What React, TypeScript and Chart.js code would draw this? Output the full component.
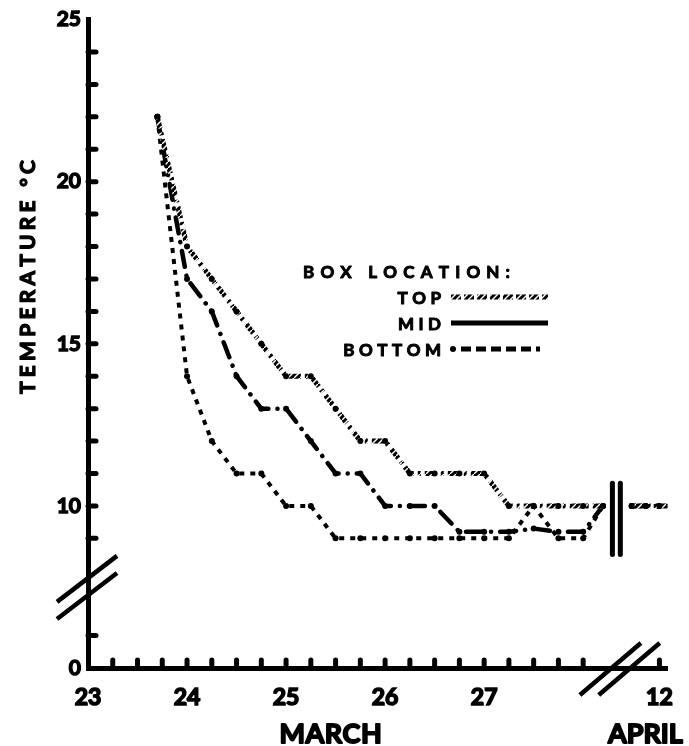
import React, { useEffect, useRef } from 'react';
import { Chart, registerables } from 'chart.js';

Chart.register(...registerables);

// ---------------- DATA ----------------
const SERIES_NAMES = ['TOP', 'MID', 'BOTTOM'];
const LEGEND_TITLE = 'BOX LOCATION:';
const Y_TITLE = 'TEMPERATURE °C';
const X_TITLE_MARCH = 'MARCH';
const X_TITLE_APRIL = 'APRIL';

// March observation times (day of March)
const MARCH_TIMES = [23.7, 24.0, 24.25, 24.5, 24.75, 25.0, 25.25, 25.5, 25.75, 26.0, 26.25, 26.5, 26.75, 27.0, 27.25, 27.5, 27.75, 28.0, 28.2];
const TOP_MARCH = [22, 18, 17, 16, 15, 14, 14, 13, 12, 12, 11, 11, 11, 11, 10, 10, 10, 10, 10];
const MID_MARCH = [22, 17, 16, 14, 13, 13, 12, 11, 11, 10, 10, 10, 9.2, 9.2, 9.2, 9.3, 9.2, 9.2, 10];
const BOTTOM_MARCH = [22, 14, 12, 11, 11, 10, 10, 9, 9, 9, 9, 9, 9, 9, 9, 10, 9, 9, 10];

// April observation times (day of April)
const APRIL_TIMES = [11.72, 11.86, 12.0, 12.12];
const TOP_APRIL = [10, 10, 10, 10];
const MID_APRIL = [10, 10, 10, 10];
const BOTTOM_APRIL = [10, 10, 10, 10];

// Tick labels
const X_TICK_MARCH = [23, 24, 25, 26, 27];
const X_TICK_APRIL = [12];
const Y_TICK_VALUES = [0, 10, 15, 20, 25];

// Axis-break definitions (broken axes in the original figure)
const Y_BREAK_MIN = 5; // temperatures above this are shifted down
const Y_BREAK_OFFSET = 5; // the 1..9 °C range is cut out
const APRIL_SHIFT = 16.77; // April day -> axis position after the time break
const X_MIN = 23;
const X_MAX = 28.85;

const toY = (v: number) => (v >= Y_BREAK_MIN ? v - Y_BREAK_OFFSET : v);
const aprilX = (d: number) => d + APRIL_SHIFT;

const FONT = 'Lato, "DejaVu Sans", sans-serif';

function buildPoints(march: number[], april: number[]) {
  const pts: { x: number; y: number | null }[] = [];
  MARCH_TIMES.forEach((t, i) => pts.push({ x: t, y: toY(march[i]) }));
  pts.push({ x: (MARCH_TIMES[MARCH_TIMES.length - 1] + aprilX(APRIL_TIMES[0])) / 2, y: null });
  APRIL_TIMES.forEach((t, i) => pts.push({ x: aprilX(t), y: toY(april[i]) }));
  return pts;
}

function drawSpaced(ctx: CanvasRenderingContext2D, text: string, x: number, y: number, spacing: number, align: 'left' | 'right' | 'center', stroke = 1.2) {
  const chars = [...text];
  const widths = chars.map((c) => ctx.measureText(c).width);
  const total = widths.reduce((a, b) => a + b, 0) + spacing * (chars.length - 1);
  let cx = align === 'left' ? x : align === 'right' ? x - total : x - total / 2;
  const prev = ctx.textAlign;
  ctx.textAlign = 'left';
  ctx.lineWidth = stroke;
  ctx.lineJoin = 'round';
  chars.forEach((c, i) => {
    ctx.fillText(c, cx, y);
    if (stroke > 0) ctx.strokeText(c, cx, y);
    cx += widths[i] + spacing;
  });
  ctx.textAlign = prev;
}

function spacingFor(ctx: CanvasRenderingContext2D, text: string, target: number) {
  const chars = [...text];
  const sum = chars.reduce((a, c) => a + ctx.measureText(c).width, 0);
  return (target - sum) / (chars.length - 1);
}

function makeHatch(): CanvasPattern | string {
  const c = document.createElement('canvas');
  c.width = 6;
  c.height = 6;
  const g = c.getContext('2d');
  if (!g) return '#000';
  g.fillStyle = '#000';
  g.fillRect(0, 0, 6, 6);
  g.strokeStyle = '#fff';
  g.lineWidth = 1.4;
  g.beginPath();
  g.moveTo(-1, 7);
  g.lineTo(7, -1);
  g.stroke();
  const p = g.createPattern(c, 'repeat');
  return p || '#000';
}

const decorPlugin = {
  id: 'decor',
  afterDraw(chart: any) {
    const ctx: CanvasRenderingContext2D = chart.ctx;
    const xs = chart.scales.x;
    const ys = chart.scales.y;
    const left = chart.chartArea.left;
    const bottom = chart.chartArea.bottom;
    ctx.save();
    ctx.strokeStyle = '#000';
    ctx.fillStyle = '#000';
    ctx.lineCap = 'round';

    // inward tick marks, x axis (every 6 h in March, plus April 12)
    ctx.lineWidth = 5;
    const xMinor: number[] = [];
    for (let d = X_MIN + 0.25; d <= 28.001; d += 0.25) xMinor.push(d);
    X_TICK_APRIL.forEach((d) => xMinor.push(aprilX(d)));
    xMinor.forEach((d) => {
      const px = xs.getPixelForValue(d);
      ctx.beginPath();
      ctx.moveTo(px, bottom);
      ctx.lineTo(px, bottom - 8);
      ctx.stroke();
    });

    // inward tick marks, y axis (every 1 °C, except the cut-out range)
    const yMinor: number[] = [1];
    for (let v = 9; v <= 24; v++) yMinor.push(v);
    yMinor.forEach((v) => {
      const py = ys.getPixelForValue(toY(v));
      ctx.beginPath();
      ctx.moveTo(left, py);
      ctx.lineTo(left + 8, py);
      ctx.stroke();
    });

    // y axis break marks
    ctx.lineWidth = 4.5;
    ctx.lineCap = 'butt';
    [2.25, 2.78].forEach((dv) => {
      const cy = ys.getPixelForValue(dv);
      ctx.beginPath();
      ctx.moveTo(left - 31, cy + 24);
      ctx.lineTo(left + 29, cy - 22);
      ctx.stroke();
    });

    // x axis break marks
    [28.27, 28.46].forEach((dx) => {
      const cx = xs.getPixelForValue(dx);
      ctx.beginPath();
      ctx.moveTo(cx - 30, bottom + 27);
      ctx.lineTo(cx + 31, bottom - 25);
      ctx.stroke();
    });

    // double vertical bar in plot at time break
    ctx.lineWidth = 5;
    ctx.lineCap = 'round';
    [28.295, 28.375].forEach((dx) => {
      const px = xs.getPixelForValue(dx);
      ctx.beginPath();
      ctx.moveTo(px, ys.getPixelForValue(5.7));
      ctx.lineTo(px, ys.getPixelForValue(3.5));
      ctx.stroke();
    });

    // axis titles
    ctx.textBaseline = 'alphabetic';
    ctx.font = `bold 27px ${FONT}`;
    const marchCenter = (xs.getPixelForValue(X_MIN) + xs.getPixelForValue(28)) / 2 - 5;
    drawSpaced(ctx, X_TITLE_MARCH, marchCenter, 743, 0.5, 'center', 1.8);
    drawSpaced(ctx, X_TITLE_APRIL, xs.getPixelForValue(aprilX(X_TICK_APRIL[0])) - 14, 743, 0, 'center', 1.8);

    ctx.save();
    ctx.translate(35, 277);
    ctx.rotate(-Math.PI / 2);
    ctx.font = `bold 21px ${FONT}`;
    const sp = spacingFor(ctx, Y_TITLE, 234);
    drawSpaced(ctx, Y_TITLE, 0, 0, sp, 'center', 1.2);
    ctx.restore();

    // legend
    ctx.font = `bold 17px ${FONT}`;
    const sp2 = spacingFor(ctx, LEGEND_TITLE, 207);
    drawSpaced(ctx, LEGEND_TITLE, 303, 278, sp2, 'left', 1);
    const rowY = [304, 330, 356];
    const labelRight = 441;
    const sampleStart = 451;
    const sampleEnd = 548;
    SERIES_NAMES.forEach((name, i) => {
      ctx.font = `bold 17px ${FONT}`;
      ctx.strokeStyle = '#000';
      drawSpaced(ctx, name, labelRight, rowY[i], 4.5, 'right', 1);
      const ly = rowY[i] - 7;
      const ds = chart.data.datasets[i];
      ctx.save();
      ctx.lineCap = 'butt';
      if (i === 0) {
        ctx.strokeStyle = ds.borderColor;
        ctx.lineWidth = 5;
        ctx.setLineDash([10, 3]);
        ctx.beginPath();
        ctx.moveTo(sampleStart, ly);
        ctx.lineTo(sampleEnd, ly);
        ctx.stroke();
      } else if (i === 1) {
        ctx.lineWidth = 5;
        ctx.beginPath();
        ctx.moveTo(sampleStart, ly);
        ctx.lineTo(sampleEnd, ly);
        ctx.stroke();
      } else {
        ctx.beginPath();
        ctx.arc(sampleStart + 2, ly, 3, 0, Math.PI * 2);
        ctx.fill();
        ctx.lineWidth = 5;
        ctx.setLineDash([10, 5]);
        ctx.beginPath();
        ctx.moveTo(sampleStart + 10, ly);
        ctx.lineTo(sampleEnd - 8, ly);
        ctx.stroke();
      }
      ctx.restore();
    });

    ctx.restore();
  },
};

export default function App() {
  const ref = useRef<HTMLCanvasElement | null>(null);

  useEffect(() => {
    if (!ref.current) return;
    const hatch = makeHatch();
    const xTickPos = [...X_TICK_MARCH, ...X_TICK_APRIL.map(aprilX)];
    const xTickLabels = [...X_TICK_MARCH, ...X_TICK_APRIL].map(String);

    const chart = new Chart(ref.current, {
      type: 'line',
      data: {
        datasets: [
          {
            label: SERIES_NAMES[0],
            data: buildPoints(TOP_MARCH, TOP_APRIL),
            borderColor: hatch as any,
            borderWidth: 5,
            borderDash: [12, 4, 3, 4],
            pointRadius: 3,
            pointBackgroundColor: '#000',
            pointBorderWidth: 0,
            spanGaps: false,
            tension: 0,
          },
          {
            label: SERIES_NAMES[1],
            data: buildPoints(MID_MARCH, MID_APRIL),
            borderColor: '#000',
            borderWidth: 4.5,
            borderDash: [16, 9, 0.1, 9],
            borderCapStyle: 'round',
            pointRadius: 3,
            pointBackgroundColor: '#000',
            pointBorderWidth: 0,
            spanGaps: false,
            tension: 0,
          },
          {
            label: SERIES_NAMES[2],
            data: buildPoints(BOTTOM_MARCH, BOTTOM_APRIL),
            borderColor: '#000',
            borderWidth: 4,
            borderDash: [5, 6],
            pointRadius: 3,
            pointBackgroundColor: '#000',
            pointBorderWidth: 0,
            spanGaps: false,
            tension: 0,
          },
        ],
      },
      options: {
        animation: false,
        responsive: false,
        devicePixelRatio: 1,
        layout: { padding: { top: 14, right: 16, bottom: 0, left: 0 } },
        plugins: {
          legend: { display: false },
          tooltip: { enabled: false },
        },
        elements: { line: { clip: false } as any },
        scales: {
          x: {
            type: 'linear',
            min: X_MIN,
            max: X_MAX,
            offset: false,
            grid: { display: false, drawTicks: false },
            border: { display: true, color: '#000', width: 5 },
            afterBuildTicks: (s: any) => {
              s.ticks = xTickPos.map((v) => ({ value: v }));
            },
            afterFit: (s: any) => {
              s.height = 78;
            },
            ticks: {
              autoSkip: false,
              maxRotation: 0,
              minRotation: 0,
              padding: 16,
              color: '#000',
              textStrokeColor: '#000',
              textStrokeWidth: 1.6,
              font: { family: FONT, weight: 'bold', size: 23 },
              callback: (_v: any, i: number) => xTickLabels[i],
            },
          },
          y: {
            type: 'linear',
            min: 0,
            max: 20,
            grid: { display: false, drawTicks: false },
            border: { display: true, color: '#000', width: 5 },
            afterBuildTicks: (s: any) => {
              s.ticks = Y_TICK_VALUES.map((v) => ({ value: toY(v) }));
            },
            afterFit: (s: any) => {
              s.width = 88;
            },
            ticks: {
              autoSkip: false,
              padding: 7,
              color: '#000',
              textStrokeColor: '#000',
              textStrokeWidth: 1.4,
              font: { family: FONT, weight: 'bold', size: 21 },
              callback: (_v: any, i: number) => String(Y_TICK_VALUES[i]),
            },
          },
        },
      } as any,
      plugins: [decorPlugin],
    });
    return () => chart.destroy();
  }, []);

  return (
    <div style={{ position: 'fixed', left: 0, top: 0, width: 689, height: 746, background: '#fff' }}>
      <canvas ref={ref} width={689} height={746} style={{ display: 'block', width: 689, height: 746 }} />
    </div>
  );
}
